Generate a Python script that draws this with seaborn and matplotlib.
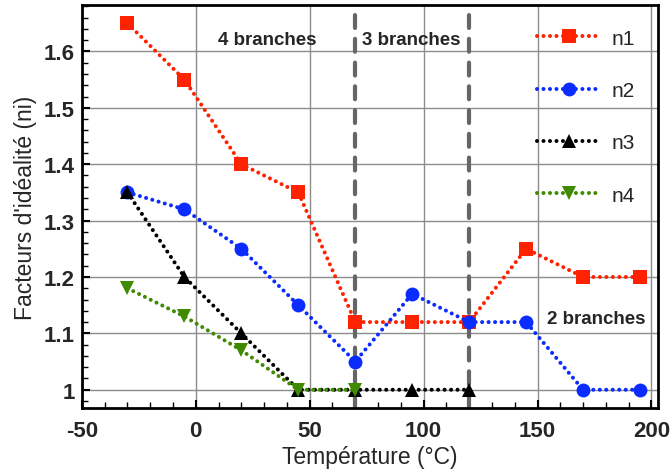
import matplotlib
matplotlib.use("Agg")
import matplotlib.pyplot as plt
import seaborn as sns
import pandas as pd
from matplotlib.ticker import MultipleLocator

temps = [-30, -5, 20, 45, 70, 95, 120, 145, 170, 195]
n1 = [1.65, 1.55, 1.40, 1.35, 1.12, 1.12, 1.12, 1.25, 1.20, 1.20]
n2 = [1.35, 1.32, 1.25, 1.15, 1.05, 1.17, 1.12, 1.12, 1.00, 1.00]
n3 = [1.35, 1.20, 1.10, 1.00, 1.00, 1.00, 1.00]
n4 = [1.18, 1.13, 1.07, 1.00, 1.00]
labels = ["n1", "n2", "n3", "n4"]
colors = ["#ff2200", "#0a2cff", "#000000", "#3f8a00"]
markers = ["s", "o", "^", "v"]
boundaries = [70, 120]

sns.set_theme(style="white")
plt.rcParams['font.family'] = ['Liberation Sans', 'DejaVu Sans']
plt.rcParams['axes.unicode_minus'] = False

fig = plt.figure(figsize=(6.71, 4.77), dpi=100)
ax = fig.add_axes([0.122, 0.143, 0.859, 0.844])

series = [n1, n2, n3, n4]
for lab, vals, c, m in zip(labels, series, colors, markers):
    df = pd.DataFrame({"T": temps[:len(vals)], "n": vals})
    sns.lineplot(data=df, x="T", y="n", ax=ax, color=c, marker=m,
                 markersize=10, markeredgewidth=0, linewidth=2.9,
                 linestyle=(0, (0.01, 1.6)), dash_capstyle="round",
                 label=lab, zorder=3)

for b in boundaries:
    ax.axvline(b, color="#666666", linewidth=3, linestyle=(0, (3.1, 2.6)),
               dash_capstyle="round", zorder=2)

ax.set_xlim(-50, 203)
ax.set_ylim(0.968, 1.682)
ax.xaxis.set_major_locator(MultipleLocator(50))
ax.xaxis.set_minor_locator(MultipleLocator(10))
ax.yaxis.set_minor_locator(MultipleLocator(0.02))
ax.set_yticks([1.0, 1.1, 1.2, 1.3, 1.4, 1.5, 1.6])
ax.set_yticklabels(["1", "1.1", "1.2", "1.3", "1.4", "1.5", "1.6"])
ax.grid(True, which="major", color="#8c8c8c", linewidth=1.0, zorder=0)
ax.set_axisbelow(True)
ax.tick_params(which="both", direction="in", left=True, bottom=True, color="black")
ax.tick_params(which="major", length=6, width=1.5, labelsize=16)
ax.tick_params(which="minor", length=4, width=1)
ax.tick_params(axis="x", which="major", pad=9)
ax.tick_params(axis="y", which="major", pad=5)
for t in ax.get_xticklabels() + ax.get_yticklabels():
    t.set_fontweight("bold")
for s in ax.spines.values():
    s.set_color("black")
    s.set_linewidth(2)

ax.set_xlabel("Température (°C)", fontsize=16.5, labelpad=3)
ax.set_ylabel("Facteurs d'idéalité (ni)", fontsize=16.5, labelpad=5)

ax.text(31.5, 1.621, "4 branches", fontsize=13.5, fontweight="bold", ha="center", va="center")
ax.text(94.7, 1.621, "3 branches", fontsize=13.5, fontweight="bold", ha="center", va="center")
ax.text(176, 1.126, "2 branches", fontsize=13.5, fontweight="bold", ha="center", va="center")

leg = ax.legend(loc="upper right", frameon=False, fontsize=15, handlelength=3.1,
                labelspacing=1.6, bbox_to_anchor=(0.985, 0.978), handletextpad=0.5,
                borderaxespad=0.3)

fig.savefig("out.png", dpi=100)
